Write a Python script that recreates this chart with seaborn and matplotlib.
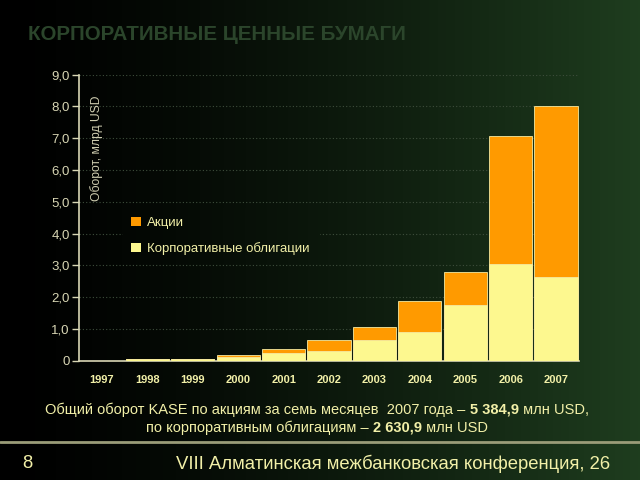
import numpy as np
import pandas as pd
import matplotlib
matplotlib.use("Agg")
import matplotlib.pyplot as plt
from matplotlib import font_manager
from matplotlib.patches import Patch
from matplotlib.image import BboxImage
from matplotlib.transforms import Bbox, TransformedBbox
import seaborn as sns

years = ["1997", "1998", "1999", "2000", "2001", "2002", "2003", "2004", "2005", "2006", "2007"]
bonds = [0.0, 0.05, 0.05, 0.11, 0.23, 0.31, 0.65, 0.91, 1.76, 3.05, 2.63]
stocks = [0.0, 0.0, 0.0, 0.07, 0.14, 0.33, 0.40, 0.96, 1.03, 4.01, 5.38]
yticks = [0, 1, 2, 3, 4, 5, 6, 7, 8, 9]
ytick_labels = ["0", "1,0", "2,0", "3,0", "4,0", "5,0", "6,0", "7,0", "8,0", "9,0"]
legend_labels = ["Акции", "Корпоративные облигации"]
title = "КОРПОРАТИВНЫЕ ЦЕННЫЕ БУМАГИ"
ylabel = "Оборот, млрд USD"
line1 = [("Общий оборот KASE по акциям за семь месяцев  2007 года – ", False),
         ("5 384,9", True), (" млн USD,", False)]
line2 = [("по корпоративным облигациям – ", False), ("2 630,9", True), (" млн USD", False)]
footer_num = "8"
footer = "VIII Алматинская межбанковская конференция, 26"

sns.set_theme(style="white")
names = {f.name for f in font_manager.fontManager.ttflist}
narrow = "Liberation Sans Narrow" if "Liberation Sans Narrow" in names else "Liberation Sans"
plt.rcParams["font.family"] = [narrow, "DejaVu Sans"]

ORANGE = "#ff9a00"
YELLOW = "#fdf88f"
TXT = "#f2f0a8"
TICK = "#d8d6b4"

W, H = 640, 480
fig = plt.figure(figsize=(6.4, 4.8), dpi=100)

C0 = np.array([0.0, 0.0, 0.0])
C1 = np.array([0.12, 0.24, 0.12])


def gradient(x0, x1, n=400):
    x = np.linspace(x0, x1, n)
    t = x ** 1.4
    return (C0[None, :] * (1 - t[:, None]) + C1[None, :] * t[:, None])[None, :, :]


bg = fig.add_axes([0, 0, 1, 1], zorder=-10)
bg.imshow(gradient(0, 1), extent=[0, 1, 0, 1], aspect="auto")
bg.set_axis_off()

ax = fig.add_axes([79.3 / W, 1 - 360.7 / H, 499.4 / W, 286 / H])
ax.set_facecolor("none")

df = pd.DataFrame({"year": years, "bonds": bonds, "stocks": stocks})
df["total"] = df["bonds"] + df["stocks"]

sns.barplot(data=df, x="year", y="total", color=ORANGE, saturation=1, width=0.95,
            edgecolor="#f5e9a0", linewidth=0.6, ax=ax, zorder=3)
sns.barplot(data=df, x="year", y="bonds", color=YELLOW, saturation=1, width=0.95,
            edgecolor="#f5e9a0", linewidth=0.6, ax=ax, zorder=4)

ax.set_xlim(-0.5, 10.5)
ax.set_ylim(0, 9)
ax.set_yticks(yticks)
ax.set_yticklabels(ytick_labels, fontsize=9.5, color=TICK)
ax.set_xticks(range(len(years)))
ax.set_xticklabels(years, fontsize=8, color=TXT, fontweight="bold")
ax.set_xticks(np.arange(-0.5, 11, 1), minor=True)
ax.tick_params(axis="x", which="major", length=0, pad=10)
ax.tick_params(axis="x", which="minor", length=4, width=1, color=TICK, direction="out")
ax.tick_params(axis="y", length=5, width=1, color=TICK, direction="out", pad=2, left=True)
ax.set_xlabel("")
ax.set_ylabel("")
for s in ["top", "right"]:
    ax.spines[s].set_visible(False)
for s in ["left", "bottom"]:
    ax.spines[s].set_color(TICK)
    ax.spines[s].set_linewidth(1.2)
ax.yaxis.grid(True, linestyle=(0, (1, 2)), color="#3e4e3c", linewidth=0.8, zorder=0)
ax.set_axisbelow(True)

ax.text(0.035, 0.744, ylabel, transform=ax.transAxes, rotation=90, ha="center",
        va="center", fontsize=8.7, color="#cfcdb0")

handles = [Patch(facecolor=ORANGE, edgecolor="none"), Patch(facecolor=YELLOW, edgecolor="none")]
leg = ax.legend(handles, legend_labels, loc="upper left", bbox_to_anchor=(0.077, 0.55),
                frameon=False, fontsize=9.5, handlelength=0.75, handleheight=0.75,
                handletextpad=0.45, labelspacing=1.0, borderpad=0.5)
leg.set_zorder(5)
for tx in leg.get_texts():
    tx.set_color(TXT)

# gradient patch behind the legend (hides the gridline like the original box)
fx0, fx1 = 123 / W, 320 / W
fy0, fy1 = 1 - 258 / H, 1 - 208 / H
img = BboxImage(TransformedBbox(Bbox([[fx0, fy0], [fx1, fy1]]), fig.transFigure),
                interpolation="bilinear")
img.set_data(gradient(fx0, fx1, 200))
img.set_zorder(1)
ax.add_artist(img)

fig.text(28 / W, 1 - 35 / H, title, fontsize=14.8, fontweight="bold", color="#2b452b",
         ha="left", va="center")

renderer = fig.canvas.get_renderer()


def rich_line(parts, ypix, cxpix, size, color):
    texts = []
    for s, b in parts:
        tt = fig.text(0, 1 - ypix / H, s, fontsize=size, fontweight="bold" if b else "normal",
                      color=color, ha="left", va="center")
        texts.append(tt)
    widths = []
    for (s, b), tt in zip(parts, texts):
        probe = fig.text(0, 0, s.replace(" ", "\u00a0"), fontsize=size,
                         fontweight="bold" if b else "normal")
        widths.append(probe.get_window_extent(renderer).width)
        probe.remove()
    xpos = cxpix - sum(widths) / 2
    for tt, w in zip(texts, widths):
        tt.set_x(xpos / W)
        xpos += w


rich_line(line1, 410, 317, 10.5, TXT)
rich_line(line2, 428, 317, 10.5, TXT)

fig.add_artist(plt.Line2D([0, 1], [1 - 442 / H, 1 - 442 / H], color="#9a9c78", linewidth=2))
fig.text(22 / W, 1 - 464 / H, footer_num, fontsize=13.3, color=TXT, ha="left", va="center")
fig.text(610 / W, 1 - 464 / H, footer, fontsize=13.3, color=TXT, ha="right", va="center")

fig.savefig("out.png", dpi=100)
